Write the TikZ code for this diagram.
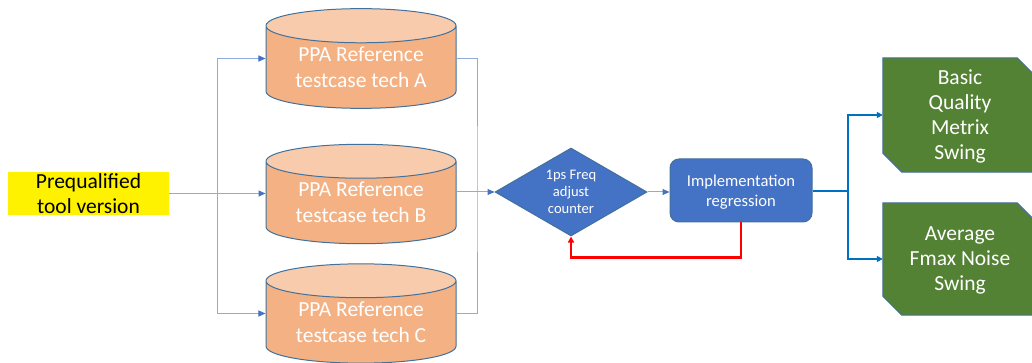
\documentclass[tikz,border=0pt]{standalone}
\usepackage{fontspec}
\setmainfont{Carlito}
\usetikzlibrary{shapes.geometric,arrows.meta,positioning,backgrounds}
\definecolor{dbbody}{HTML}{F4B183}
\definecolor{dbtop}{HTML}{F8CBAD}
\definecolor{edgeblue}{HTML}{41719C}
\definecolor{implblue}{HTML}{4472C4}
\definecolor{metrixgreen}{HTML}{548235}
\definecolor{thinblue}{HTML}{8FAADC}
\definecolor{outblue}{HTML}{0070C0}
\tikzset{
  refdb/.style={cylinder, shape border rotate=90, aspect=0.26, draw=edgeblue, line width=1pt,
    cylinder uses custom fill, cylinder body fill=dbbody, cylinder end fill=dbtop,
    minimum width=190pt, inner sep=0pt, text height=44pt, text depth=4pt, text=white, align=center,
    anchor=shape center, font=\fontsize{21.5}{26}\selectfont},
  metrix/.style={rectangle, text=white, align=center, minimum width=154pt, inner sep=0pt,
    text depth=0pt, font=\fontsize{21.5}{25}\selectfont},
  metrixedge/.style={draw=edgeblue, line width=1pt, fill=metrixgreen},
  thinline/.style={thinblue, line width=1pt},
  thinarrow/.style={thinline, -{Triangle[length=7pt,width=6pt,fill=implblue,color=implblue]}},
  outarrow/.style={outblue, line width=2pt, -{Triangle[length=6pt,width=6pt]}},
}
\begin{document}
\begin{tikzpicture}[x=1pt,y=-1pt]
  \useasboundingbox (0,0) rectangle (1032,363);
  \clip (0,0) rectangle (1032,363);
  % source
  \node[fill=yellow, minimum width=161pt, minimum height=43pt, inner sep=0pt, text depth=0pt,
    align=center, font=\fontsize{21.5}{25}\selectfont] (prequal) at (88.5,193.5) {Prequalified\\tool version};
  % reference testcases
  \node[refdb] (dbA) at (361,58.5) {PPA Reference\\testcase tech A};
  \node[refdb] (dbB) at (361,194) {PPA Reference\\testcase tech B};
  \node[refdb] (dbC) at (361,313.5) {PPA Reference\\testcase tech C};
  % loop
  \node[diamond, aspect=1.73, draw=edgeblue, line width=1pt, fill=implblue, text=white,
    minimum width=152pt, minimum height=88pt, inner sep=0pt, align=center,
    font=\fontsize{14.6}{17}\selectfont] (freq) at (571,192) {1ps Freq\\adjust\\counter};
  \node[rectangle, rounded corners=9pt, draw=edgeblue, line width=1pt, fill=implblue, text=white,
    minimum width=142pt, minimum height=63pt, text depth=0pt, align=center,
    font=\fontsize{16.6}{20}\selectfont] (impl) at (741,190.5) {Implementation\\regression};
  % results
  \node[metrix, minimum height=114pt] (basic) at (960,115) {Basic\\Quality\\Metrix\\Swing};
  \node[metrix, minimum height=112pt] (avg) at (960,259) {Average\\Fmax Noise\\Swing};
  \begin{pgfonlayer}{background}
    \foreach \res in {basic,avg}
      \draw[metrixedge] (\res.north west) -- ([xshift=-20pt]\res.north east) -- ([yshift=-20pt]\res.north east)
        -- (\res.south east) -- ([xshift=19pt]\res.south west) -- ([yshift=19pt]\res.south west) -- cycle;
  \end{pgfonlayer}
  % connectors
  \coordinate (split) at (217,193.5);
  \coordinate (merge) at (477,192);
  \coordinate (fork) at (848,191);
  \draw[thinarrow] (prequal.east) -- (dbB.west |- prequal.east);
  \draw[thinarrow] (split) |- (dbA.shape center -| dbA.west);
  \draw[thinarrow] (split) |- (dbC.shape center -| dbC.west);
  \draw[thinline] (dbA.shape center -| dbA.east) -| (merge) |- (dbC.shape center -| dbC.east);
  \draw[thinarrow] (dbB.east |- freq.west) -- (freq.west);
  \draw[thinarrow] (freq.east) -- (impl.west |- freq.east);
  \draw[red, line width=2.5pt, -{Triangle[length=6pt,width=6pt]}] (impl.south) -- ++(0,35) -| (freq.south);
  \draw[outblue, line width=2pt] (impl.east |- fork) -- (fork);
  \draw[outarrow] (fork) |- (basic.west);
  \draw[outarrow] (fork) |- (avg.west);
\end{tikzpicture}
\end{document}
